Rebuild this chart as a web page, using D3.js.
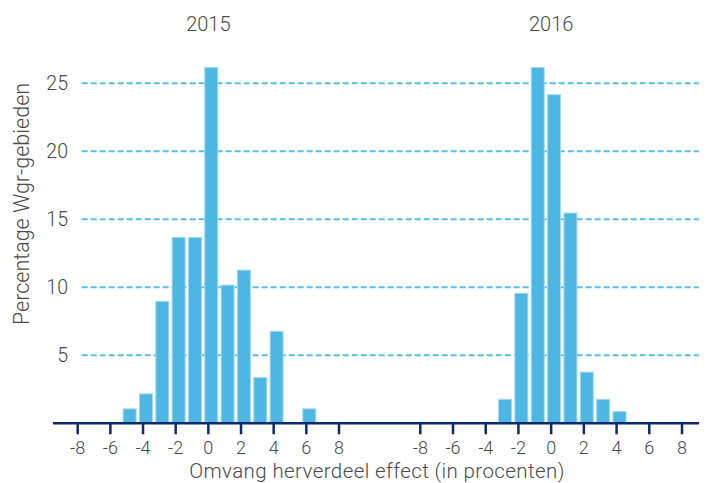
<!DOCTYPE html>
<html>
<head>
<meta charset="utf-8">
<script src="https://cdn.jsdelivr.net/npm/d3@7"></script>
<style>
  html, body { margin: 0; padding: 0; background: #fff; }
  svg { display: block; }
  text { font-family: Roboto, "Liberation Sans", sans-serif; font-weight: 300; fill: #4a4a4a; }
</style>
</head>
<body>
<svg id="chart" width="707" height="483"></svg>
<script>
const bins = [-5, -4, -3, -2, -1, 0, 1, 2, 3, 4, 5, 6];
const values2015 = [1.1, 2.2, 9.0, 13.7, 13.7, 26.2, 10.2, 11.3, 3.4, 6.8, 0, 1.1];
const bins2016 = [-3, -2, -1, 0, 1, 2, 3, 4];
const values2016 = [1.8, 9.6, 26.2, 24.2, 15.5, 3.8, 1.8, 0.9];
const xTicks = [-8, -6, -4, -2, 0, 2, 4, 6, 8];
const yTicks = [5, 10, 15, 20, 25];
const panelTitles = ["2015", "2016"];
const xTitle = "Omvang herverdeel effect (in procenten)";
const yTitle = "Percentage Wgr-gebieden";

const svg = d3.select("#chart");
const y = d3.scaleLinear().domain([0, 25]).range([423.3, 83.3]);

const panels = [
  { title: panelTitles[0], bins: bins, values: values2015, range: [77.7, 339] },
  { title: panelTitles[1], bins: bins2016, values: values2016, range: [420.3, 682] }
];

// gridlines
svg.append("g").selectAll("line").data(yTicks).join("line")
  .attr("x1", 81.7).attr("x2", 699)
  .attr("y1", d => y(d)).attr("y2", d => y(d))
  .attr("stroke", "#5bbde8").attr("stroke-width", 2)
  .attr("stroke-dasharray", "6,3");

// y tick labels
svg.append("g").selectAll("text").data(yTicks).join("text")
  .attr("x", 68).attr("y", d => y(d) + 6.8)
  .attr("text-anchor", "end").attr("font-size", 19.5)
  .text(d => d);

panels.forEach(p => {
  const x = d3.scaleLinear().domain([-8, 8]).range(p.range);
  const bw = 14;
  const data = p.bins.map((b, i) => ({ b, v: p.values[i] })).filter(d => d.v > 0);
  svg.append("g").selectAll("rect").data(data).join("rect")
    .attr("x", d => x(d.b + 0.18) - bw / 2 + 0.5)
    .attr("width", bw - 1)
    .attr("y", d => y(d.v) + 0.5)
    .attr("height", d => y(0) - y(d.v) - 0.5)
    .attr("fill", "#4db6e3")
    .attr("stroke", "#a3d9f1").attr("stroke-width", 1);

  // ticks
  svg.append("g").selectAll("line").data(xTicks).join("line")
    .attr("x1", d => x(d)).attr("x2", d => x(d))
    .attr("y1", y(0)).attr("y2", y(0) + 11)
    .attr("stroke", "#0b2b6c").attr("stroke-width", 2.5);
  svg.append("g").selectAll("text").data(xTicks).join("text")
    .attr("x", d => x(d)).attr("y", 453.5)
    .attr("text-anchor", "middle").attr("font-size", 18)
    .text(d => d < 0 ? "-" + Math.abs(d) : d);

  svg.append("text")
    .attr("x", x(0)).attr("y", 31)
    .attr("text-anchor", "middle").attr("font-size", 20)
    .text(p.title);
});

// axis baseline
svg.append("line")
  .attr("x1", 53).attr("x2", 699)
  .attr("y1", y(0)).attr("y2", y(0))
  .attr("stroke", "#0b2b6c").attr("stroke-width", 2.5);

svg.append("text")
  .attr("x", 377).attr("y", 478)
  .attr("text-anchor", "middle").attr("font-size", 20.5)
  .attr("letter-spacing", 0.4)
  .text(xTitle);

svg.append("text")
  .attr("transform", "translate(29,204) rotate(-90)")
  .attr("text-anchor", "middle").attr("font-size", 21.5)
  .text(yTitle);
</script>
</body>
</html>
